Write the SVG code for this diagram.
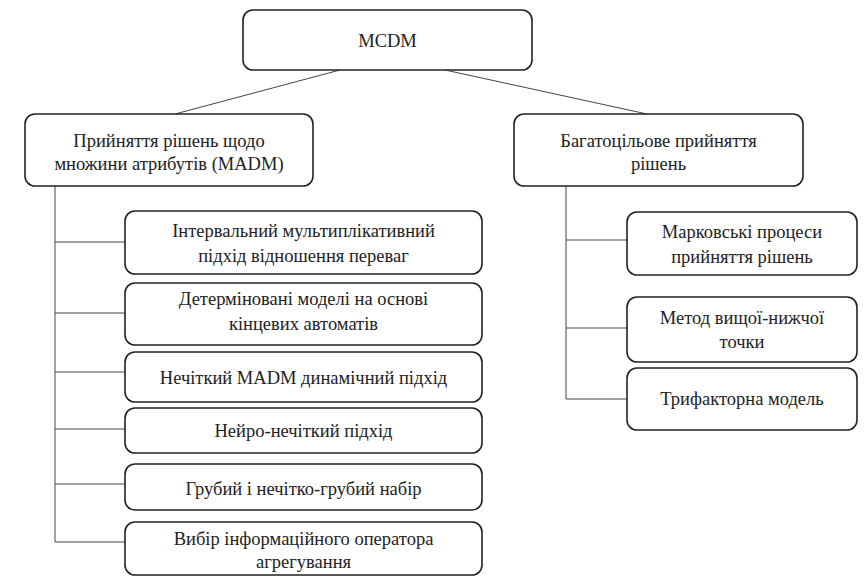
<svg xmlns="http://www.w3.org/2000/svg" width="864" height="576" viewBox="0 0 864 576">
<style>
.box{fill:#fff;stroke:#222;stroke-width:1.6}
.t{font-size:18.5px;fill:#222;text-anchor:middle}
.c{stroke:#444;stroke-width:1;fill:none}
</style>
<rect width="864" height="576" fill="#fff"/>
<g id="connectors">
<line class="c" x1="340" y1="70" x2="175" y2="114"/>
<line class="c" x1="445" y1="70" x2="647" y2="114"/>
<polyline class="c" points="55,186 55,542 125,542"/>
<line class="c" x1="55" y1="242" x2="125" y2="242"/>
<line class="c" x1="55" y1="313" x2="125" y2="313"/>
<line class="c" x1="55" y1="372" x2="125" y2="372"/>
<line class="c" x1="55" y1="429" x2="125" y2="429"/>
<line class="c" x1="55" y1="484" x2="125" y2="484"/>
<polyline class="c" points="566,186 566,399 627,399"/>
<line class="c" x1="566" y1="240" x2="627" y2="240"/>
<line class="c" x1="566" y1="328" x2="627" y2="328"/>
</g>
<g font-family="Liberation Serif, serif">
<g id="mcdm"><rect class="box" x="243" y="10" width="289" height="60" rx="10"/><text class="t" x="387.5" y="47">MCDM</text></g>
<g id="madm"><rect class="box" x="25" y="114" width="288" height="72" rx="10"/><text class="t" x="169" y="147">Прийняття рішень щодо</text><text class="t" x="169" y="170">множини атрибутів (MADM)</text></g>
<g id="multiobj"><rect class="box" x="514" y="114" width="289" height="72" rx="10"/><text class="t" x="658.5" y="147">Багатоцільове прийняття</text><text class="t" x="658.5" y="170">рішень</text></g>
<g id="l1"><rect class="box" x="125" y="211" width="357" height="63" rx="10"/><text class="t" x="303.5" y="237">Інтервальний мультиплікативний</text><text class="t" x="303.5" y="262">підхід відношення переваг</text></g>
<g id="l2"><rect class="box" x="125" y="283" width="357" height="62" rx="10"/><text class="t" x="303.5" y="305">Детерміновані моделі на основі</text><text class="t" x="303.5" y="330">кінцевих автоматів</text></g>
<g id="l3"><rect class="box" x="125" y="352" width="357" height="50" rx="10"/><text class="t" x="303.5" y="384">Нечіткий MADM динамічний підхід</text></g>
<g id="l4"><rect class="box" x="125" y="408" width="357" height="45" rx="10"/><text class="t" x="303.5" y="437">Нейро-нечіткий підхід</text></g>
<g id="l5"><rect class="box" x="125" y="464" width="357" height="46" rx="10"/><text class="t" x="303.5" y="495">Грубий і нечітко-грубий набір</text></g>
<g id="l6"><rect class="box" x="125" y="522" width="357" height="53" rx="10"/><text class="t" x="303.5" y="545">Вибір інформаційного оператора</text><text class="t" x="303.5" y="568">агрегування</text></g>
<g id="r1"><rect class="box" x="627" y="212" width="230" height="63" rx="10"/><text class="t" x="742" y="238">Марковські процеси</text><text class="t" x="742" y="263">прийняття рішень</text></g>
<g id="r2"><rect class="box" x="627" y="297" width="230" height="65" rx="10"/><text class="t" x="742" y="324">Метод вищої-нижчої</text><text class="t" x="742" y="348">точки</text></g>
<g id="r3"><rect class="box" x="627" y="368" width="230" height="62" rx="10"/><text class="t" x="742" y="405">Трифакторна модель</text></g>
</g>
</svg>
